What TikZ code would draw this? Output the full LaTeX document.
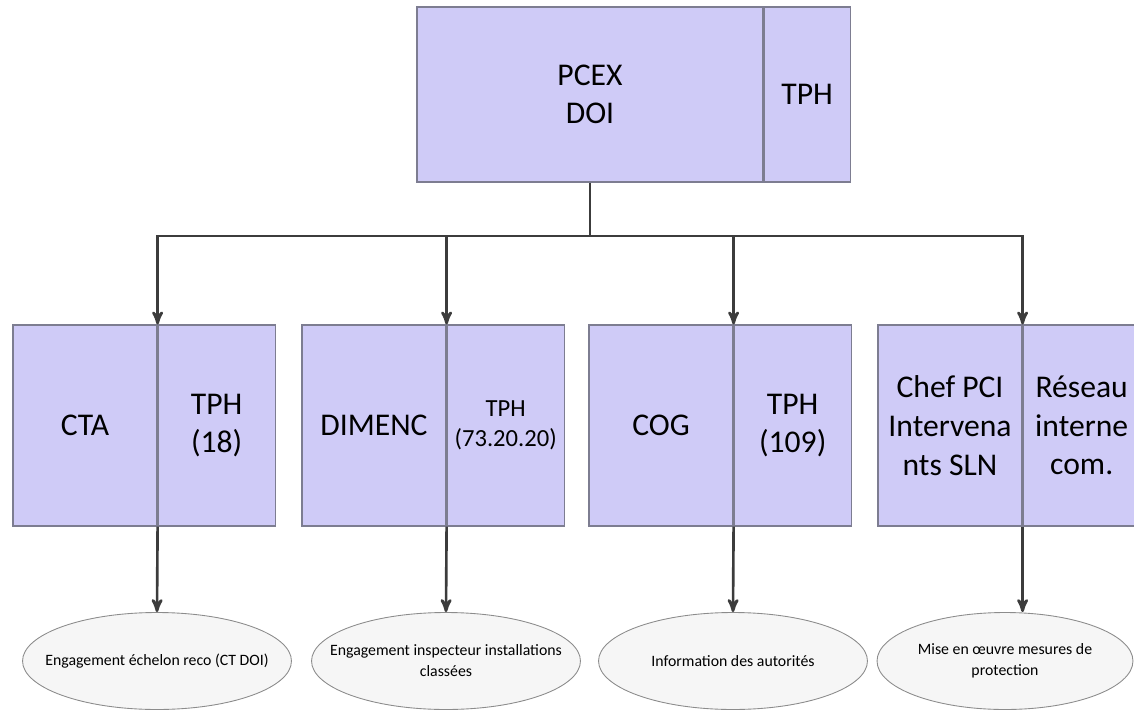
\documentclass[tikz,border=0pt]{standalone}
\usepackage{fontspec}
\setmainfont{Carlito}
\usepackage{tikz}
\usetikzlibrary{%
  arrows,%
  shapes.geometric,% wg. ellipse
  positioning% wg. " of "
}

\definecolor{boxfill}{RGB}{207,203,247}
\definecolor{boxline}{RGB}{125,125,145}
\definecolor{ellfill}{RGB}{246,246,246}
\definecolor{ellline}{RGB}{140,140,140}
\definecolor{linkcol}{RGB}{60,60,60}

\tikzset{
  part/.style={draw=boxline, fill=boxfill, line width=0.7pt, inner sep=0pt,
    align=center, minimum height=4.02cm, font=\fontsize{18}{22}\selectfont},
  lpart/.style={part, minimum width=2.88cm},
  rpart/.style={part, minimum width=2.34cm},
  bubble/.style={ellipse, draw=ellline, fill=ellfill, line width=0.5pt,
    inner xsep=-0.45cm, inner ysep=0pt, align=center,
    minimum width=5.38cm, minimum height=1.94cm,
    font=\fontsize{9}{12}\selectfont},
  link/.style={draw=linkcol, line width=1.5pt}
}

\begin{document}
\begin{tikzpicture}[
  x=0.02cm, y=-0.02cm,
  >=stealth'
]
\useasboundingbox (0,0) rectangle (1134,711);

% top box
\node[part, minimum width=6.92cm, minimum height=3.5cm] (pcex) at (590,94.5) {PCEX\\DOI};
\node[part, minimum width=1.72cm, minimum height=3.5cm, right=0pt of pcex] (tphtop) {TPH};

% second row
\node[lpart] (cta) at (85,425.5) {CTA};
\node[rpart, right=0pt of cta] (ctatph) {TPH\\(18)};
\node[lpart] (dimenc) at (374,425.5) {DIMENC};
\node[rpart, right=0pt of dimenc, font=\fontsize{14}{17}\selectfont] (dimenctph) {TPH\\(73.20.20)};
\node[lpart] (cog) at (661,425.5) {COG};
\node[rpart, right=0pt of cog] (cogtph) {TPH\\(109)};
\node[lpart] (pci) at (950,425.5) {Chef PCI\\Intervena\\nts SLN};
\node[rpart, right=0pt of pci] (pcires) {Réseau\\interne\\com.};

% actions
\node[bubble] (reco) at (157,661) {Engagement échelon reco (CT DOI)};
\node[bubble] (inspect) at (446,661) {Engagement inspecteur installations\\classées};
\node[bubble] (info) at (733,661) {Information des autorités};
\node[bubble, minimum width=5.12cm] (mise) at (1005,661) {Mise en œuvre mesures de\\protection};

% links
\coordinate (bus) at (590,236);
\draw[link] (pcex.south) -- (bus);
\foreach \b in {cta,dimenc,cog,pci}
  \draw[link,->] (bus) -| (\b.north east);

\draw[link,->] (ctatph.south west) -- (reco.north);
\draw[link,->] (dimenctph.south west) -- (inspect.north);
\draw[link,->] (cogtph.south west) -- (info.north);
\draw[link,->] (pcires.south west) -- (pcires.south west |- mise.north);

\end{tikzpicture}
\end{document}
